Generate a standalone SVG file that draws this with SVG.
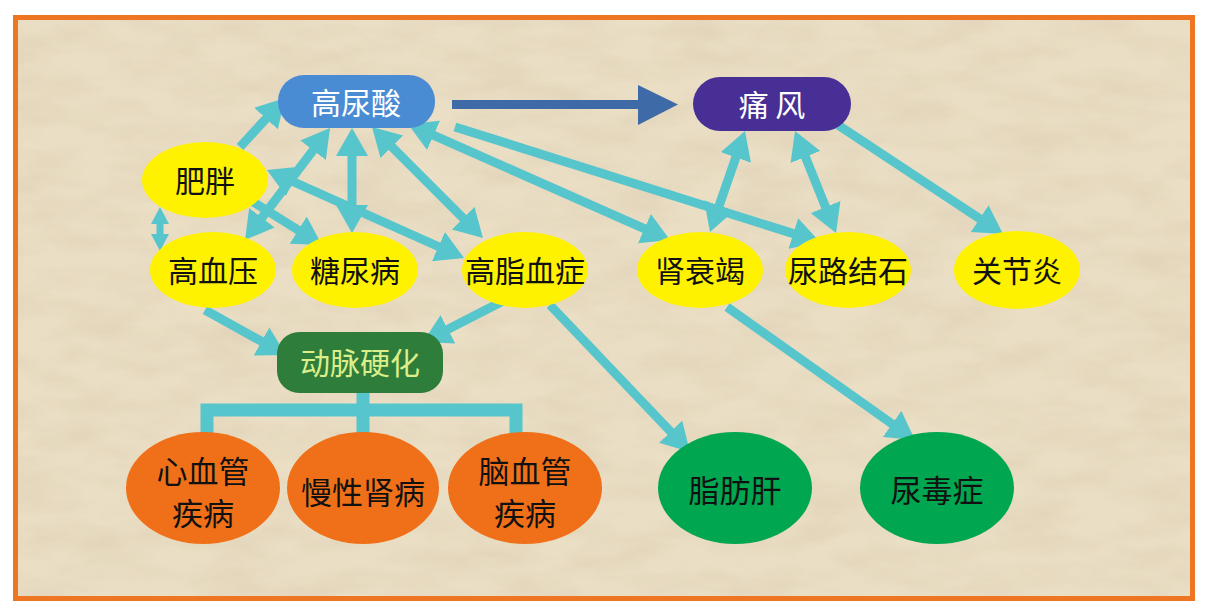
<svg xmlns="http://www.w3.org/2000/svg" width="1208" height="611" viewBox="0 0 1208 611">
<style>
.t{font-family:"Noto Sans CJK SC","Noto Sans CJK TC",sans-serif;font-size:30px;text-anchor:middle;dominant-baseline:central;fill:#111}
.b{font-size:31px}
.w{fill:#ffffff}
.y{fill:#fff200}
.o{fill:#f07019}
.g{fill:#00a650}
.c{stroke:#56c5cc;stroke-width:9;fill:none}
</style>
<defs>
<marker id="ah" viewBox="0 0 28 32" refX="6" refY="16" markerWidth="28" markerHeight="32" markerUnits="userSpaceOnUse" orient="auto-start-reverse">
<path d="M0,0 L28,16 L0,32 z" fill="#56c5cc"/>
</marker>
<marker id="sh" viewBox="0 0 17 18" refX="3" refY="9" markerWidth="17" markerHeight="18" markerUnits="userSpaceOnUse" orient="auto-start-reverse">
<path d="M0,0 L17,9 L0,18 z" fill="#56c5cc"/>
</marker>
<filter id="paper" x="0" y="0" width="100%" height="100%">
<feTurbulence type="fractalNoise" baseFrequency="0.015 0.04" numOctaves="4" seed="7"/>
<feColorMatrix type="matrix" values="0 0 0 0 0.6  0 0 0 0 0.5  0 0 0 0 0.35  0.5 0 0 0 -0.17"/>
</filter>
</defs>
<rect x="0" y="0" width="1208" height="611" fill="#ffffff"/>
<rect x="15.5" y="17.5" width="1177" height="581" fill="#eadec4"/>
<rect x="18" y="20" width="1172" height="576" filter="url(#paper)"/>
<rect x="15.5" y="17.5" width="1177" height="581" fill="none" stroke="#ee7623" stroke-width="5"/>
<g id="connectors">
<line class="c" x1="240" y1="147" x2="270.1" y2="114.2" marker-end="url(#ah)"/>
<line class="c" x1="258.3" y1="222.5" x2="316.7" y2="145.5" marker-start="url(#ah)" marker-end="url(#ah)"/>
<line class="c" x1="352" y1="150" x2="352" y2="211" marker-start="url(#ah)" marker-end="url(#ah)"/>
<line class="c" x1="387.6" y1="142.6" x2="467.4" y2="222.4" marker-start="url(#ah)" marker-end="url(#ah)"/>
<line class="c" x1="287.1" y1="179" x2="443.9" y2="249" marker-start="url(#ah)" marker-end="url(#ah)"/>
<line class="c" x1="250" y1="200" x2="303.3" y2="233.3" marker-end="url(#ah)"/>
<line class="c" style="stroke-width:7" x1="160" y1="221" x2="160" y2="237" marker-start="url(#sh)" marker-end="url(#sh)"/>
<line class="c" x1="205" y1="310" x2="266.8" y2="344.3" marker-end="url(#ah)"/>
<line class="c" x1="505" y1="300" x2="442.6" y2="332" marker-end="url(#ah)"/>
<line class="c" x1="550" y1="305" x2="674.8" y2="436" marker-end="url(#ah)"/>
<line class="c" x1="727" y1="307" x2="897" y2="427.3" marker-end="url(#ah)"/>
<line class="c" x1="428.1" y1="132.9" x2="649.9" y2="231.1" marker-start="url(#ah)" marker-end="url(#ah)"/>
<line class="c" x1="455" y1="127" x2="799" y2="235.4" marker-end="url(#ah)"/>
<line class="c" x1="717.2" y1="211.2" x2="737.8" y2="151.8" marker-start="url(#ah)" marker-end="url(#ah)"/>
<line class="c" x1="803.2" y1="151.4" x2="827.8" y2="212.6" marker-start="url(#ah)" marker-end="url(#ah)"/>
<line class="c" x1="838" y1="125" x2="984.7" y2="221.9" marker-end="url(#ah)"/>
<path d="M363,393 V410 M207,440 V410 H516 V440 M363,410 V440" stroke="#56c5cc" stroke-width="13" fill="none"/>
<line x1="452" y1="104.5" x2="642" y2="104.5" stroke="#3e6aa8" stroke-width="9"/>
<polygon points="638,85 678,104.5 638,125" fill="#3e6aa8"/>
</g>
<g id="n-gaoniaosuan"><rect x="278" y="75" width="157" height="53" rx="26" fill="#4a8cd4"/><text class="t w" x="356" y="101">高尿酸</text></g>
<g id="n-tongfeng"><rect x="693" y="77" width="158" height="54" rx="27" fill="#482f96"/><text class="t w" x="772" y="103" font-size="28">痛 风</text></g>
<g id="n-feipang"><ellipse class="y" cx="205" cy="180" rx="63" ry="38"/><text class="t" x="205" y="179">肥胖</text></g>
<g id="n-gaoxueya"><ellipse class="y" cx="213" cy="270" rx="63" ry="38"/><text class="t" x="213" y="269">高血压</text></g>
<g id="n-tangniaobing"><ellipse class="y" cx="355" cy="270" rx="63" ry="38"/><text class="t" x="355" y="269">糖尿病</text></g>
<g id="n-gaozhixuezheng"><ellipse class="y" cx="525" cy="270" rx="63" ry="38"/><text class="t" x="525" y="269">高脂血症</text></g>
<g id="n-shenshuaijie"><ellipse class="y" cx="700" cy="270" rx="63" ry="38"/><text class="t" x="700" y="269">肾衰竭</text></g>
<g id="n-niaolujieshi"><ellipse class="y" cx="848" cy="270" rx="63" ry="38"/><text class="t" x="848" y="269">尿路结石</text></g>
<g id="n-guanjieyan"><ellipse class="y" cx="1017" cy="270" rx="63" ry="39"/><text class="t" x="1017" y="269">关节炎</text></g>
<g id="n-dongmaiyinghua"><rect x="277" y="332" width="166" height="61" rx="22" fill="#2e7d3a"/><text class="t" x="360" y="361" font-size="28" style="fill:#dcee8a">动脉硬化</text></g>
<g id="n-xinxueguan"><ellipse class="o" cx="203" cy="488" rx="77" ry="56"/><text class="t b" x="203" y="469">心血管</text><text class="t b" x="203" y="511">疾病</text></g>
<g id="n-manxingshenbing"><ellipse class="o" cx="363" cy="488" rx="76" ry="56"/><text class="t b" x="363" y="490">慢性肾病</text></g>
<g id="n-naoxueguan"><ellipse class="o" cx="525" cy="488" rx="77" ry="56"/><text class="t b" x="525" y="469">脑血管</text><text class="t b" x="525" y="511">疾病</text></g>
<g id="n-zhifanggan"><ellipse class="g" cx="735" cy="488" rx="77" ry="56"/><text class="t b" x="735" y="488">脂肪肝</text></g>
<g id="n-niaoduzheng"><ellipse class="g" cx="937" cy="488" rx="77" ry="56"/><text class="t b" x="937" y="488">尿毒症</text></g>
</svg>
